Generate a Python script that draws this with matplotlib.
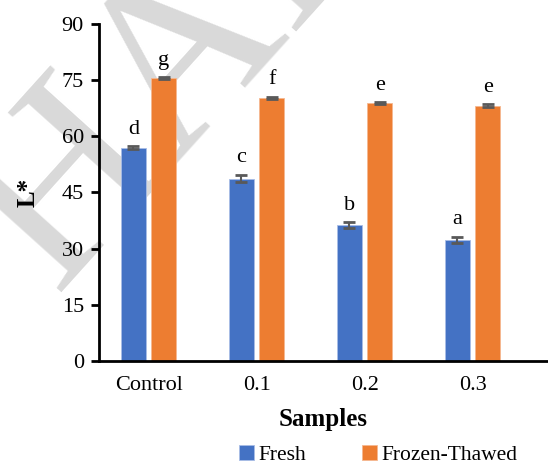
import matplotlib.pyplot as plt
import numpy as np

plt.rcParams['font.family'] = ['Liberation Serif', 'DejaVu Serif']

# data
samples = ['Control', '0.1', '0.2', '0.3']
fresh = [57.0, 48.7, 36.3, 32.4]
fresh_err = [0.3, 1.0, 0.7, 0.8]
thawed = [75.5, 70.3, 68.8, 68.2]
thawed_err = [0.3, 0.3, 0.3, 0.4]
fresh_letters = ['d', 'c', 'b', 'a']
thawed_letters = ['g', 'f', 'e', 'e']

blue = '#4472C4'
orange = '#ED7D31'
err_col = '#595959'

fig = plt.figure(figsize=(5.48, 4.65), dpi=100)
ax = fig.add_axes([0.181, 0.2237, 0.819, 0.7247])
ax.patch.set_alpha(0)

# watermark
fig.text(0.325, 0.855, 'HAL', fontsize=175, color='#d9d9d9', rotation=48,
         ha='center', va='center', zorder=-10)

x = np.arange(len(samples))
w = 0.23
off = 0.141
ax.bar(x - off, fresh, w, color=blue, edgecolor='#a9bde6', linewidth=0.6, label='Fresh', zorder=2)
ax.bar(x + off, thawed, w, color=orange, edgecolor='#f5b890', linewidth=0.6, label='Frozen-Thawed', zorder=2)
ax.errorbar(x - off, fresh, yerr=fresh_err, fmt='none', ecolor=err_col, elinewidth=1.5,
            capsize=4.5, capthick=2, zorder=3)
ax.errorbar(x + off, thawed, yerr=thawed_err, fmt='none', ecolor=err_col, elinewidth=1.5,
            capsize=4.5, capthick=2, zorder=3)

for i in range(len(samples)):
    ax.text(x[i] - off, fresh[i] + fresh_err[i] + 2.0, fresh_letters[i],
            ha='center', va='bottom', fontsize=16)
    ax.text(x[i] + off, thawed[i] + thawed_err[i] + 2.0, thawed_letters[i],
            ha='center', va='bottom', fontsize=16)

ax.set_xlim(-0.458, 3.699)
ax.set_ylim(0, 90)
ax.set_yticks(np.arange(0, 91, 15))
ax.set_xticks(x)
ax.set_xticklabels(samples)
ax.tick_params(axis='y', direction='out', length=6, width=2, labelsize=16, pad=5)
ax.tick_params(axis='x', length=0, labelsize=16, pad=11)
for s in ['top', 'right']:
    ax.spines[s].set_visible(False)
for s in ['left', 'bottom']:
    ax.spines[s].set_linewidth(2)
    ax.spines[s].set_color('black')

ax.set_xlabel('Samples', fontsize=18, fontweight='bold', labelpad=9)
ax.set_ylabel('L*', fontsize=18, fontweight='bold', labelpad=16)

ax.legend(loc='center', bbox_to_anchor=(0.622, -0.28), ncol=2, frameon=False,
          fontsize=15.5, handlelength=0.7, handleheight=0.7, handletextpad=0.2,
          columnspacing=2.6, borderpad=0.2)

fig.savefig('out.png', dpi=100, facecolor='white')
